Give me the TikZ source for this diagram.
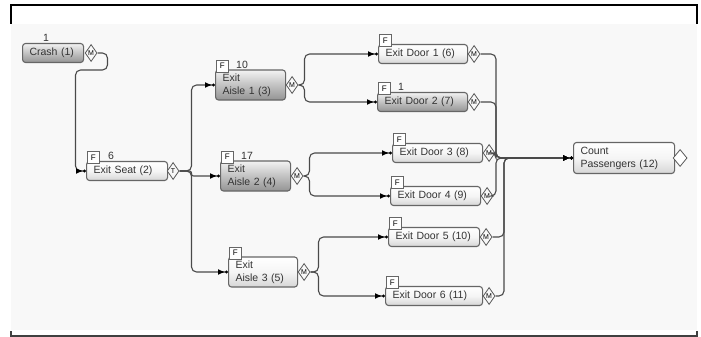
\documentclass[tikz,border=0pt]{standalone}
\usepackage{fontspec}
\setmainfont{Liberation Sans}
\usetikzlibrary{shapes.geometric,arrows.meta}
\definecolor{pane}{HTML}{F8F8F8}
\definecolor{wire}{HTML}{4A4A4A}

\begin{document}
\begin{tikzpicture}[
    x=1pt, y=-1pt,
    font=\fontsize{10.5}{13}\selectfont,
    box/.style={rectangle, rounded corners=3pt, draw=black!60, line width=1.1pt,
                top color=white, bottom color=black!16, middle color=black!4,
                align=left, inner xsep=7pt, inner ysep=1pt, minimum height=19pt,
                anchor=west, text=black!80},
    lite/.style={},
    dark/.style={top color=black!5, bottom color=black!42, middle color=black!24},
    tag/.style={draw=black!60, line width=0.6pt, fill=white, minimum size=12pt,
                inner sep=0pt, font=\fontsize{8}{8}\selectfont, anchor=south west},
    count/.style={anchor=south, inner sep=1pt, text=black!80},
    port/.style={diamond, draw=black!65, line width=0.8pt, fill=pane,
                 minimum width=12pt, minimum height=17pt, inner sep=0pt,
                 font=\fontsize{7}{7}\selectfont},
    link/.style={draw=wire, line width=1.1pt, rounded corners=5pt,
                 -{Latex[length=7pt,width=6pt,black]Circle[length=3pt,black]}},
]

% ---- frame ----
\useasboundingbox (0,0) rectangle (701,337);
\fill[pane] (11,24) rectangle (697,330);
\draw[line width=1.4pt] (11,24) |- (697,5) -- (697,24);
\draw[black!75, line width=1.4pt] (11,331) |- (697,336) -- (697,331);

% ---- crash and exit seat ----
\node[box, dark, text width=47pt] (crash) at (22,53) {Crash (1)};
\node[count] (crashN) at ([xshift=24pt]crash.north west) {1};
\node[port] (crashP) at ([xshift=7pt]crash.east) {M};

\node[box, text width=67pt] (seat) at (86,171) {Exit Seat (2)};
\node[tag] (seatF) at ([shift={(1,3)}]seat.north west) {F};
\node[count] (seatN) at ([xshift=25pt]seat.north west) {6};
\node[port] (seatP) at ([xshift=5pt]seat.east) {T};

% ---- aisles ----
\node[box, dark, text width=56pt, minimum height=30pt] (aisle1) at (215,85) {Exit\\Aisle 1 (3)};
\node[box, dark, text width=56pt, minimum height=30pt] (aisle2) at (220,176) {Exit\\Aisle 2 (4)};
\node[box, text width=55pt, minimum height=30pt] (aisle3) at (228,272) {Exit\\Aisle 3 (5)};
\foreach \a in {1,2,3} {
    \node[tag] (aisle\a F) at ([shift={(1,3)}]aisle\a.north west) {F};
    \node[port] (aisle\a P) at ([xshift=6pt]aisle\a.east) {M};
}
\node[count] (aisle1N) at ([xshift=27pt]aisle1.north west) {10};
\node[count] (aisle2N) at ([xshift=27pt]aisle2.north west) {17};

% ---- doors ----
\foreach \i/\n/\x/\y/\w/\s in {1/6/378/54/75/lite, 2/7/377/102/76/dark,
        3/8/392/153/76/lite, 4/9/390/196/76/lite, 5/10/388/237/77/lite,
        6/11/385/296/83/lite} {
    \node[box, \s, text width=\w pt] (door\i) at (\x,\y) {Exit Door \i\ (\n)};
    \node[tag] (door\i F) at ([shift={(1,3)}]door\i.north west) {F};
    \node[port] (door\i P) at ([xshift=6pt]door\i.east) {M};
}
\node[count] (door2N) at ([xshift=24pt]door2.north west) {1};

% ---- count ----
\node[box, text width=87pt, minimum height=31pt] (total) at (573,158) {Count\\Passengers (12)};
\node[port, fill=white, minimum width=14pt] (totalP) at ([xshift=5pt]total.east) {};

% ---- wiring ----
\coordinate (jT) at (496,158);
\coordinate (jB) at (504,158);
\draw[link] (crashP.east) -- ++(10,0) -- ++(0,17) -- ++(-32,0) |- (seat.west);
\draw[link] (seatP.east) -- ++(12,0) |- (aisle1.west);
\draw[link, rounded corners=2pt] (seatP.east) -- ++(12,0) |- (aisle2.west);
\draw[link] (seatP.east) -- ++(12,0) |- (aisle3.west);
\foreach \a/\d/\e/\dx in {1/1/2/6, 2/3/4/6, 3/5/6/8} {
    \draw[link] (aisle\a P.east) -- ++(\dx,0) |- (door\d.west);
    \draw[link] (aisle\a P.east) -- ++(\dx,0) |- (door\e.west);
}
\foreach \d in {1,2,3,4} { \draw[link] (door\d P.east) -| (jT) -- (total.west); }
\foreach \d in {5,6} { \draw[link] (door\d P.east) -| (jB) -- (total.west); }
\end{tikzpicture}
\end{document}
